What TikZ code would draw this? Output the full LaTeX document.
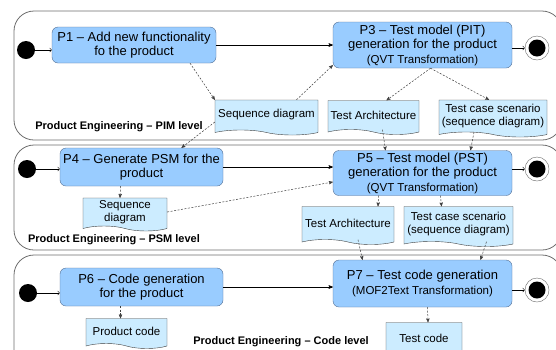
\documentclass[tikz,border=0pt]{standalone}
\usepackage{fontspec}
\setmainfont{Liberation Sans}
\usepackage{tikz}
\usetikzlibrary{arrows,shapes.symbols}

\definecolor{procblue}{RGB}{153,204,255}
\definecolor{procline}{RGB}{84,110,145}
\definecolor{docblue}{RGB}{204,236,255}
\definecolor{laneline}{RGB}{110,110,110}

\begin{document}
\begin{tikzpicture}[x=1pt, y=-1pt, >=stealth',
    lane/.style={draw=laneline, rounded corners=20pt, line width=0.8pt, fill=white},
    proc/.style={rectangle, rounded corners=6pt, draw=procline, fill=procblue, align=center, inner sep=1pt, font=\fontsize{13}{14.5}\selectfont},
    doc/.style={tape, tape bend top=none, tape bend bottom=out and in, tape bend height=5pt, draw=black!75, fill=docblue, align=center, inner sep=1pt, font=\fontsize{11.5}{13}\selectfont},
    startdot/.style={circle, fill=black, minimum size=18pt, inner sep=0pt},
    enddot/.style={circle, draw=black!60, fill=white, minimum size=24pt, inner sep=0pt,
        path picture={\fill[black] (path picture bounding box.center) circle (8.5pt);}},
    lanelabel/.style={font=\fontsize{11}{13}\selectfont\bfseries},
    flow/.style={->, line width=0.6pt},
    entry/.style={-to, line width=0.6pt},
    dep/.style={->, black!75, line width=0.5pt, dash pattern=on 2pt off 1.5pt}]
    \useasboundingbox (0,0) rectangle (556,349);
    \clip (0,0) rectangle (556,349);

    % lanes
    \draw[lane] (14,11) rectangle (562,140);
    \draw[lane] (14,145) rectangle (562,250);
    \draw[lane] (14,255) rectangle (562,370);

    % PIM level
    \node[startdot] (s1) at (26,50) {};
    \node[proc, minimum width=164pt, minimum height=36pt] (p1) at (134,45) {P1 -- Add new functionality\\fo the product};
    \node[proc, minimum width=179pt, minimum height=46pt] (p3) at (422.5,45) {P3 -- Test model (PIT)\\generation for the product\\{\fontsize{11.5}{13}\selectfont (QVT Transformation)}};
    \node[enddot] (e1) at (537,48) {};
    \node[doc, minimum width=103pt, minimum height=35pt] (seq1) at (266.5,115) {Sequence diagram};
    \node[doc, minimum width=91pt, minimum height=34pt] (ta1) at (373.5,115) {Test Architecture};
    \node[doc, minimum width=108pt, minimum height=37pt] (tcs1) at (493,116) {Test case scenario\\(sequence diagram)};
    \node[lanelabel] (lbl1) at (119,127) {Product Engineering -- PIM level};

    % PSM level
    \node[startdot] (s2) at (27,169) {};
    \node[proc, minimum width=163pt, minimum height=38pt] (p4) at (141.5,167) {P4 -- Generate PSM for the\\product};
    \node[proc, minimum width=179pt, minimum height=45pt] (p5) at (422.5,173) {P5 -- Test model (PST)\\generation for the product\\{\fontsize{11.5}{13}\selectfont (QVT Transformation)}};
    \node[enddot] (e2) at (537,169) {};
    \node[doc, minimum width=84pt, minimum height=33pt] (seq2) at (125,212) {Sequence\\diagram};
    \node[doc, minimum width=92pt, minimum height=38pt] (ta2) at (348,223) {Test Architecture};
    \node[doc, minimum width=109pt, minimum height=40pt] (tcs2) at (458.5,224) {Test case scenario\\(sequence diagram)};
    \node[lanelabel] (lbl2) at (114,240) {Product Engineering -- PSM level};

    % Code level
    \node[startdot] (s3) at (28,293) {};
    \node[proc, minimum width=163pt, minimum height=38pt] (p6) at (141.5,287) {P6 -- Code generation\\for the product};
    \node[proc, minimum width=179pt, minimum height=47pt] (p7) at (422.5,283.5) {P7 -- Test code generation\\{\fontsize{11.5}{13}\selectfont (MOF2Text Transformation)}};
    \node[enddot] (e3) at (537,290) {};
    \node[doc, minimum width=81pt, minimum height=30pt] (pc) at (126.5,331) {Product code};
    \node[doc, minimum width=76pt, minimum height=36pt] (tc) at (424,338) {Test code};
    \node[lanelabel] (lbl3) at (281,342) {Product Engineering -- Code level};

    \draw[entry] (s1) -- (s1 -| p1.west);
    \draw[flow] (p1) -- (p3);
    \draw[entry] (p3.east |- e1) -- (e1);
    \draw[dep] (p1.-18) -- (seq1.north west);
    \draw[dep] ([xshift=30pt]seq1.north) -- ([yshift=3pt]p3.south west);
    \draw[dep] ([yshift=-7pt]seq1.west) -- ([xshift=40pt]p4.north);
    \draw[dep] ([xshift=8pt]p3.south) -- ([xshift=13pt]ta1.north);
    \draw[dep] ([xshift=8pt]p3.south) -- ([xshift=-4pt]tcs1.north);
    \draw[dep] ([xshift=9pt]ta1.south) -- ([xshift=-37pt]p5.north);
    \draw[dep] ([xshift=-19pt]tcs1.south) -- ([xshift=48pt]p5.north);

    \draw[entry] (s2) -- (s2 -| p4.west);
    \draw[flow] (p4) -- (p4 -| p5.west);
    \draw[entry] (p5.east |- e2) -- (e2);
    \draw[dep] ([xshift=-21pt]p4.south) -- ([xshift=-5pt]seq2.north);
    \draw[dep] (seq2.east) -- ([yshift=-9pt]p5.west);
    \draw[dep] ([xshift=-44pt]p5.south) -- ([xshift=30pt]ta2.north);
    \draw[dep] ([xshift=18pt]p5.south) -- ([xshift=-17pt]tcs2.north);
    \draw[dep] ([xshift=10pt]ta2.south) -- ([xshift=-60pt]p7.north);
    \draw[dep] ([xshift=28pt]tcs2.south) -- ([xshift=58pt]p7.north);

    \draw[entry] (s3) -- (s3 -| p6.west);
    \draw[flow] (p6) -- (p6 -| p7.west);
    \draw[entry] (p7.east |- e3) -- (e3);
    \draw[dep] ([xshift=-21pt]p6.south) -- ([xshift=-6pt]pc.north);
    \draw[dep] ([xshift=5pt]p7.south) -- ([xshift=4pt]tc.north);
\end{tikzpicture}
\end{document}
